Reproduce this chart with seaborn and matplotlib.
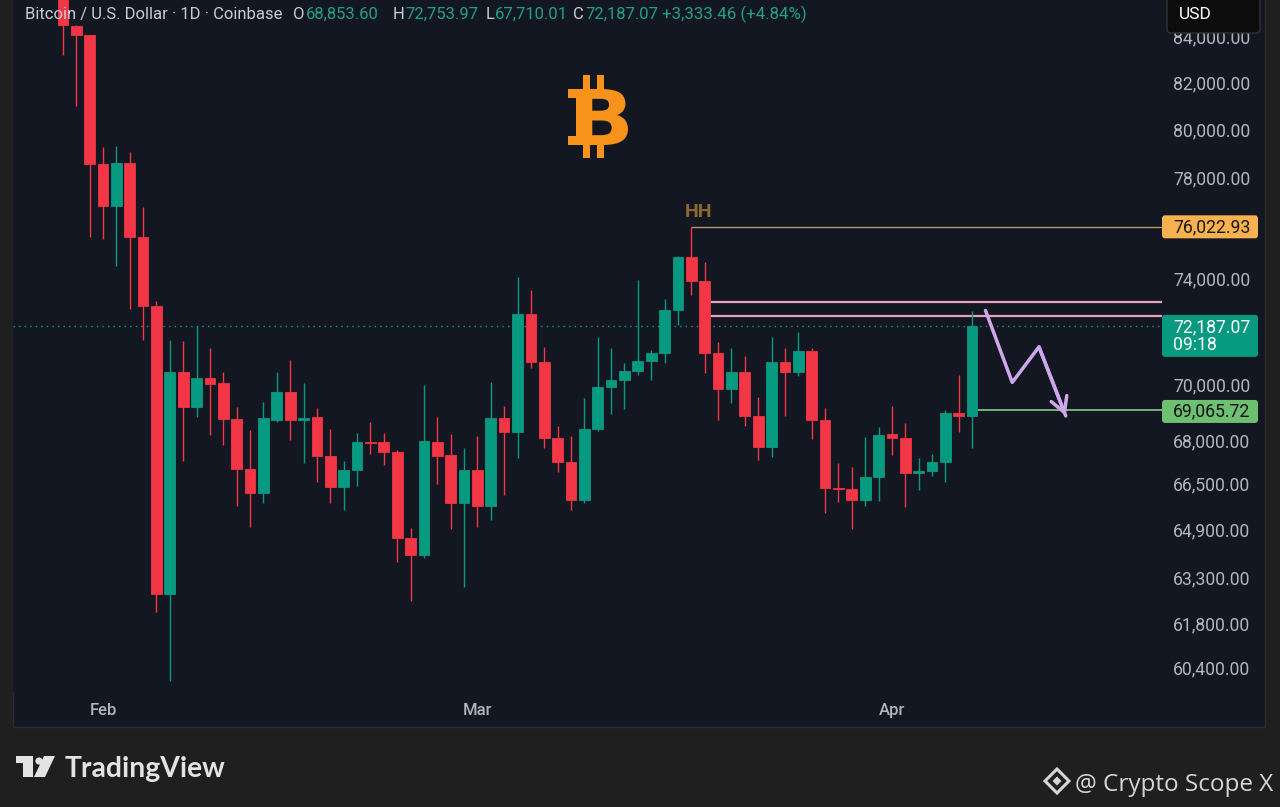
import numpy as np
import pandas as pd
import seaborn as sns
import matplotlib.pyplot as plt
import matplotlib.dates as mdates
from matplotlib.patches import Rectangle, FancyBboxPatch, Circle, Polygon, RegularPolygon, PathPatch
from matplotlib.transforms import IdentityTransform, Affine2D
from matplotlib.textpath import TextPath
from matplotlib.font_manager import FontProperties
from matplotlib.ticker import FixedLocator, FuncFormatter, NullLocator

# daily candles, BTC/USD (Coinbase), 29 Jan -> 7 Apr
dates = pd.date_range('2026-01-29', '2026-04-07', freq='D')
opens = [87900, 84420, 84030, 78570, 76860, 78610, 75600, 72950, 62750, 70480,
         69190, 70230, 70070, 68760, 67000, 66160, 68720, 69740, 68720, 68840,
         67440, 66370, 66950, 67940, 67940, 67590, 64600, 64040, 67940, 67480,
         65810, 66950, 65700, 68790, 68280, 72630, 70830, 68070, 67220, 65910,
         68390, 69920, 70170, 70510, 70890, 71180, 72790, 74850, 73900, 71180,
         69840, 70460, 68870, 67770, 70830, 70480, 71250, 68720, 66330, 66290,
         65910, 66700, 68210, 68090, 66860, 66900, 67240, 68970, 68853.60]
highs = [88400, 84480, 84060, 79250, 79290, 79070, 76830, 73120, 71670, 71620,
         72200, 71340, 70480, 69190, 68360, 69380, 70480, 70910, 70050, 69150,
         68390, 67270, 68270, 68660, 68250, 67650, 64940, 69990, 68840, 68220,
         67710, 68160, 70110, 69230, 74040, 73550, 71390, 68520, 68160, 69510,
         71750, 71350, 70790, 73940, 71280, 73200, 74880, 76022.93, 74630, 71590,
         71350, 71060, 69540, 71780, 71350, 71960, 71350, 69150, 67210, 67070,
         68100, 68480, 69240, 68630, 67360, 67510, 69090, 70360, 72753.97]
lows = [83170, 80960, 75600, 75560, 74480, 72810, 71670, 62170, 59950, 67260,
        68830, 68190, 67820, 65700, 65000, 65790, 68660, 68000, 67210, 66540,
        65790, 65570, 66390, 67510, 67130, 63820, 62520, 63930, 66460, 64910,
        62990, 64980, 65230, 66080, 67360, 70610, 67710, 66890, 65570, 65790,
        68340, 68940, 69120, 70360, 70170, 70810, 72210, 73360, 70420, 68720,
        69350, 68520, 67300, 67400, 68870, 70320, 68030, 65470, 65850, 64910,
        65700, 65880, 67480, 65680, 66250, 66750, 66540, 68300, 67710.01]
closes = [84460, 84030, 78570, 76860, 78610, 75600, 72950, 62750, 70480, 69190,
          70230, 70030, 68760, 67000, 66160, 68790, 69740, 68720, 68790, 67440,
          66370, 66950, 67940, 67900, 67590, 64600, 64040, 67970, 67440, 65810,
          66950, 65700, 68790, 68280, 72630, 70830, 68070, 67220, 65910, 68390,
          69920, 70170, 70510, 70890, 71180, 72790, 74850, 73900, 71180, 69840,
          70460, 68870, 67770, 70830, 70480, 71250, 68720, 66310, 66290, 65910,
          66700, 68180, 68070, 66840, 66900, 67240, 68970, 68853.60, 72187.07]

y_ticks = [84000, 82000, 80000, 78000, 74000, 70000, 68000, 66500, 64900, 63300, 61800, 60400]
month_ticks = ['2026-02-01', '2026-03-01', '2026-04-01']
month_labels = ['Feb', 'Mar', 'Apr']

# drawn levels
hh_price, hh_start = 76022.93, '2026-03-17'
pink_levels, pink_start = [73100, 72560], '2026-03-18 10:00'
last_price = 72187.07
support_price, support_start = 69065.72, '2026-04-07 10:00'
arrow_dates = ['2026-04-08', '2026-04-10', '2026-04-12', '2026-04-14']
arrow_prices = [72770, 70085, 71400, 68870]

header = [('O', '68,853.60'), ('H', '72,753.97'), ('L', '67,710.01'), ('C', '72,187.07')]

BG = '#131722'
OUTER = '#1f1f1f'
UP = '#089981'
DOWN = '#F23645'
LABEL = '#b2b5be'
ARROW = '#cfa6ea'
W, H = 1280, 807

sns.set_theme(style='dark', rc={'axes.facecolor': BG, 'figure.facecolor': OUTER,
                                'axes.edgecolor': BG, 'text.color': LABEL,
                                'xtick.color': LABEL, 'ytick.color': LABEL})
plt.rcParams['font.family'] = ['Roboto', 'DejaVu Sans']

fig = plt.figure(figsize=(W / 100, H / 100), dpi=100)
ax = fig.add_axes([13 / W, 1 - 692 / H, (1162 - 13) / W, 692 / H])

# chart panel behind the axes
fig.add_artist(Rectangle((13, H - 727), 1252, 760, transform=IdentityTransform(),
                         fc=BG, ec='#2c2c2c', lw=1, zorder=-10))

x = mdates.date2num(dates)
o, hi, lo, c = map(np.array, (opens, highs, lows, closes))
cols = np.where(c >= o, UP, DOWN)

ax.set_yscale('log')
ax.set_ylim(59614, 85592)
feb1 = pd.Timestamp('2026-02-01')
ax.set_xlim(mdates.date2num(feb1) - 6.73, mdates.date2num(feb1) + 79.2)

ax.vlines(x, lo, hi, colors=cols, lw=1.0, zorder=2)
ax.bar(x, np.abs(c - o), bottom=np.minimum(o, c), width=0.8, color=cols,
       edgecolor=cols, linewidth=0.6, zorder=3)

xmax = ax.get_xlim()[1]
ax.axhline(last_price, color=UP, lw=1, ls=(0, (1, 3)), zorder=1)
ax.hlines(hh_price, mdates.date2num(pd.Timestamp(hh_start)), xmax, color='#b8956a', lw=1, zorder=1)
ax.hlines(pink_levels, mdates.date2num(pd.Timestamp(pink_start)), xmax, color='#e7a3bd', lw=1.6, zorder=1)
ax.hlines(support_price, mdates.date2num(pd.Timestamp(support_start)), xmax, color='#8cc88c', lw=1.2, zorder=1)

ax.text(mdates.date2num(pd.Timestamp(hh_start)) + 0.5, 76410, 'HH', ha='center', va='baseline',
        fontsize=14, fontweight='bold', color='#8a6a30')

ax_x = mdates.date2num(pd.to_datetime(arrow_dates))
sns.lineplot(x=ax_x, y=arrow_prices, sort=False, estimator=None, color=ARROW, lw=2.5, ax=ax, zorder=4)
ax.annotate('', xy=(ax_x[-1], arrow_prices[-1]), xytext=(ax_x[-2], arrow_prices[-2]),
            arrowprops=dict(arrowstyle='->,head_length=0.9,head_width=0.5', color=ARROW, lw=2.5,
                            shrinkA=0, shrinkB=0), zorder=4)

ax.yaxis.tick_right()
ax.yaxis.set_major_locator(FixedLocator(y_ticks))
ax.yaxis.set_major_formatter(FuncFormatter(lambda v, p: f'{v:,.2f}'))
ax.yaxis.set_minor_locator(NullLocator())
ax.set_xticks(mdates.date2num(pd.to_datetime(month_ticks)))
ax.set_xticklabels(month_labels, fontweight='medium')
ax.tick_params(axis='y', length=0, pad=8, labelsize=12.7, colors=LABEL)
ax.tick_params(axis='x', length=0, pad=8, labelsize=12, colors=LABEL)
ax.grid(False)
for s in ax.spines.values():
    s.set_visible(False)
ax.set_xlabel('')
ax.set_ylabel('')


def ptext(px, py, s, **kw):
    fig.text(px, H - py, s, transform=IdentityTransform(), **kw)


def price_y(p):
    return H - ax.transData.transform((xmax, p))[1]


def tag(price, lines, fc, tc, above, height):
    py = price_y(price)
    fig.add_artist(FancyBboxPatch((1162, H - (py - above) - height), 96, height,
                                  boxstyle='round,pad=0,rounding_size=3', transform=IdentityTransform(),
                                  fc=fc, ec='none', zorder=5))
    for i, s in enumerate(lines):
        ptext(1173, py + 6 + 18 * i, s, color=tc, fontsize=12.7, va='baseline', zorder=6)


tag(hh_price, ['76,022.93'], '#f7b14f', '#1a1a1a', 11.5, 23)
tag(last_price, ['72,187.07', '09:18'], UP, 'white', 11, 42)
tag(support_price, ['69,065.72'], '#6cc070', '#111111', 10.5, 23)

# currency box (hides the top of the 84,000 label, as in the screenshot)
fig.add_artist(FancyBboxPatch((1167, H - 33), 93, 40, boxstyle='round,pad=0,rounding_size=4',
                              transform=IdentityTransform(), fc='#0c0c0c', ec='#333333', lw=1, zorder=5))
ptext(1179, 19, 'USD', color='white', fontsize=12.5, va='baseline', zorder=6)

# header
GREEN_TXT = '#20a088'
HEAD = '#c9ccd4'
ptext(25, 19, 'Bitcoin / U.S. Dollar · 1D · Coinbase', color=HEAD, fontsize=12, va='baseline')
for (k, v), kx, vx in zip(header, [293, 393, 486, 573], [306, 405, 495, 585]):
    ptext(kx, 19, k, color=HEAD, fontsize=12, va='baseline')
    ptext(vx, 19, v, color=GREEN_TXT, fontsize=12, va='baseline')
ptext(662, 19, '+3,333.46 (+4.84%)', color=GREEN_TXT, fontsize=12.2, va='baseline')

# bitcoin logo: bold B stretched into its box, with serifs and stubs
BTC = '#f7931a'
bpath = TextPath((0, 0), 'B', size=100, prop=FontProperties(family='DejaVu Sans', weight='bold'))
ext = bpath.get_extents()
bx0, bx1, by0, by1 = 576, 628, 89, 145
btf = (Affine2D().translate(-ext.x0, -ext.y0)
       .scale((bx1 - bx0) / ext.width, (by1 - by0) / ext.height)
       .translate(bx0, H - by1))
fig.add_artist(PathPatch(bpath, transform=btf + IdentityTransform(), fc=BTC, ec='none', zorder=3))
for y0, y1 in ((89, 98), (136, 145)):
    fig.add_artist(Rectangle((568, H - y1), 10, y1 - y0, transform=IdentityTransform(),
                             fc=BTC, ec='none', zorder=3))
for sx in (583, 597):
    for y0, y1 in ((75, 92), (142, 158)):
        fig.add_artist(Rectangle((sx, H - y1), 6.5, y1 - y0, transform=IdentityTransform(),
                                 fc=BTC, ec='none', zorder=3))

# TradingView mark
LOGO = '#e3e3e3'
fig.add_artist(Rectangle((16, H - 763), 17, 7, transform=IdentityTransform(), fc=LOGO, ec='none'))
fig.add_artist(Rectangle((23, H - 777), 10, 21, transform=IdentityTransform(), fc=LOGO, ec='none'))
fig.add_artist(Circle((39, H - 761), 3.6, transform=IdentityTransform(), fc=LOGO, ec='none'))
fig.add_artist(Polygon([(44, H - 756), (55, H - 756), (45, H - 777), (34, H - 777)],
                       transform=IdentityTransform(), fc=LOGO, ec='none'))
ptext(65, 777, 'TradingView', color=LOGO, fontsize=20.3, fontweight='bold', va='baseline',
      family=['Lato', 'DejaVu Sans'])

# watermark
WM = '#d5d5d5'
fig.add_artist(RegularPolygon((1057, H - 781), 4, radius=12, orientation=0, transform=IdentityTransform(),
                              fill=False, ec=WM, lw=2.2))
fig.add_artist(RegularPolygon((1057, H - 781), 4, radius=4.5, orientation=0, transform=IdentityTransform(),
                              fc=WM, ec='none'))
ptext(1075, 791, '@ Crypto Scope X', color=WM, fontsize=17.5, va='baseline',
      family=['Open Sans', 'DejaVu Sans'])

fig.savefig('out.png', dpi=100, facecolor=fig.get_facecolor())
